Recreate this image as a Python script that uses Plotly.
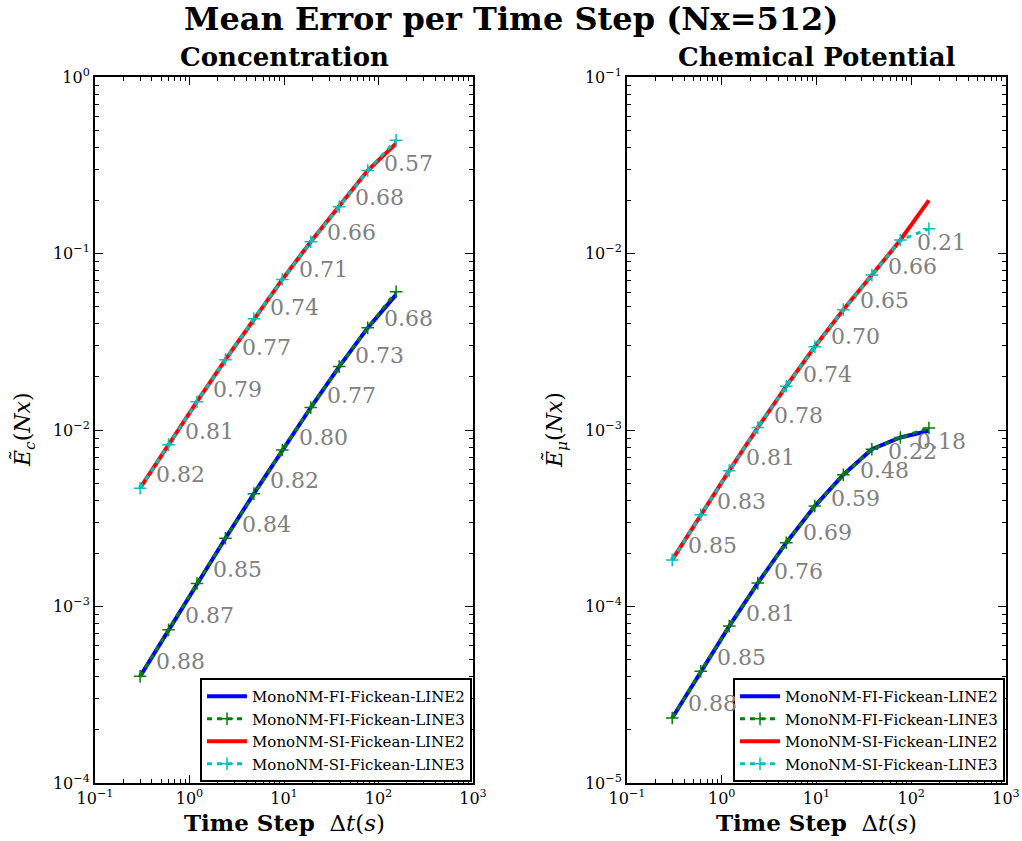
import math
import plotly.graph_objects as go

# ---------------- data ----------------
dt = [0.3, 0.6, 1.2, 2.4, 4.8, 9.6, 19.2, 38.4, 76.8, 153.6]

conc_fi_line2 = [4.02e-4, 7.39e-4, 1.351e-3, 2.436e-3, 4.36e-3, 7.70e-3, 1.341e-2, 2.286e-2, 3.79e-2, 5.85e-2]
conc_fi_line3 = [4.02e-4, 7.39e-4, 1.351e-3, 2.436e-3, 4.36e-3, 7.70e-3, 1.341e-2, 2.286e-2, 3.792e-2, 6.075e-2]
conc_si_line2 = [4.68e-3, 8.26e-3, 1.447e-2, 2.503e-2, 4.268e-2, 7.13e-2, 0.1166, 0.1842, 0.2952, 0.420]
conc_si_line3 = [4.68e-3, 8.26e-3, 1.447e-2, 2.503e-2, 4.268e-2, 7.13e-2, 0.1166, 0.1842, 0.2952, 0.4383]

chem_fi_line2 = [2.333e-5, 4.294e-5, 7.742e-5, 1.357e-4, 2.298e-4, 3.708e-4, 5.58e-4, 7.785e-4, 9.066e-4, 9.90e-4]
chem_fi_line3 = [2.333e-5, 4.294e-5, 7.742e-5, 1.357e-4, 2.298e-4, 3.708e-4, 5.58e-4, 7.785e-4, 9.066e-4, 1.027e-3]
chem_si_line2 = [1.837e-4, 3.311e-4, 5.886e-4, 1.0318e-3, 1.772e-3, 2.96e-3, 4.806e-3, 7.545e-3, 1.192e-2, 2.00e-2]
chem_si_line3 = [1.837e-4, 3.311e-4, 5.886e-4, 1.0318e-3, 1.772e-3, 2.96e-3, 4.806e-3, 7.545e-3, 1.192e-2, 1.379e-2]

# slope labels (convergence orders) between successive points
conc_si_slopes = ["0.82", "0.81", "0.79", "0.77", "0.74", "0.71", "0.66", "0.68", "0.57"]
conc_fi_slopes = ["0.88", "0.87", "0.85", "0.84", "0.82", "0.80", "0.77", "0.73", "0.68"]
chem_si_slopes = ["0.85", "0.83", "0.81", "0.78", "0.74", "0.70", "0.65", "0.66", "0.21"]
chem_fi_slopes = ["0.88", "0.85", "0.81", "0.76", "0.69", "0.59", "0.48", "0.22", "0.18"]

names = ["MonoNM-FI-Fickean-LINE2", "MonoNM-FI-Fickean-LINE3",
         "MonoNM-SI-Fickean-LINE2", "MonoNM-SI-Fickean-LINE3"]
colors = ["#0000ff", "#008000", "#ff0000", "#00bfbf"]

xticks = [0.1, 1, 10, 100, 1000]
xticktext = ["10<sup>\u22121</sup>", "10<sup>0</sup>", "10<sup>1</sup>", "10<sup>2</sup>", "10<sup>3</sup>"]
y1ticks = [1e-4, 1e-3, 1e-2, 1e-1, 1]
y1ticktext = ["10<sup>\u22124</sup>", "10<sup>\u22123</sup>", "10<sup>\u22122</sup>", "10<sup>\u22121</sup>", "10<sup>0</sup>"]
y2ticks = [1e-5, 1e-4, 1e-3, 1e-2, 1e-1]
y2ticktext = ["10<sup>\u22125</sup>", "10<sup>\u22124</sup>", "10<sup>\u22123</sup>", "10<sup>\u22122</sup>", "10<sup>\u22121</sup>"]

SERIF = "DejaVu Serif"
W, H = 1022, 841

fig = go.Figure()

def add_panel(series, xa, ya, leg):
    for i, (nm, ys) in enumerate(zip(names, series)):
        if i % 2 == 0:
            fig.add_trace(go.Scatter(x=dt, y=ys, mode="lines", name=nm,
                                     line=dict(color=colors[i], width=4),
                                     xaxis=xa, yaxis=ya, legend=leg))
        else:
            fig.add_trace(go.Scatter(x=dt, y=ys, mode="lines+markers", name=nm,
                                     line=dict(color=colors[i], width=3, dash="5px,5px"),
                                     marker=dict(symbol="cross-thin", size=9,
                                                 line=dict(color=colors[i], width=1.5)),
                                     xaxis=xa, yaxis=ya, legend=leg))

def add_slopes(ys, labels, xref, yref):
    for k, lab in enumerate(labels):
        xm = (math.log10(dt[k]) + math.log10(dt[k + 1])) / 2
        ym = (math.log10(ys[k]) + math.log10(ys[k + 1])) / 2
        fig.add_annotation(x=xm, y=ym, xref=xref, yref=yref, text=lab,
                           showarrow=False, xanchor="left", yanchor="top", yshift=6,
                           font=dict(family=SERIF, size=22, color="#808080"))

add_panel([conc_fi_line2, conc_fi_line3, conc_si_line2, conc_si_line3], "x", "y", "legend")
add_panel([chem_fi_line2, chem_fi_line3, chem_si_line2, chem_si_line3], "x2", "y2", "legend2")
add_slopes(conc_si_line3, conc_si_slopes, "x", "y")
add_slopes(conc_fi_line3, conc_fi_slopes, "x", "y")
add_slopes(chem_si_line3, chem_si_slopes, "x2", "y2")
add_slopes(chem_fi_line3, chem_fi_slopes, "x2", "y2")

def minor_vals(lo, hi):
    return [m * 10.0 ** e for e in range(lo, hi) for m in range(2, 10)]

def axis_common(ticks, text, rng, minors, domain, anchor):
    return dict(type="log", range=rng, domain=domain, anchor=anchor,
                automargin=False,
                tickmode="array", tickvals=ticks, ticktext=text,
                ticks="inside", ticklen=8, tickwidth=1, tickcolor="black",
                mirror="ticks", showline=True, linewidth=2, linecolor="black",
                showgrid=False, zeroline=False,
                tickfont=dict(family=SERIF, size=16, color="black"),
                minor=dict(tickmode="array", tickvals=minors, ticks="inside",
                           ticklen=4, tickwidth=1, tickcolor="black", showgrid=False))

ydom = [1 - 783 / H, 1 - 77 / H]
legend_common = dict(y=1 - 782 / H, xanchor="right", yanchor="bottom",
                     bordercolor="black", borderwidth=2, bgcolor="white",
                     font=dict(family=SERIF, size=15, color="black"), itemwidth=40,
                     tracegroupgap=0)
fig.update_layout(
    template="none",
    width=W, height=H,
    margin=dict(l=0, r=0, t=0, b=0, autoexpand=False),
    paper_bgcolor="white", plot_bgcolor="white",
    font=dict(family=SERIF, color="black"),
    xaxis=axis_common(xticks, xticktext, [-1, 3], minor_vals(-1, 3), [95 / W, 473 / W], "y"),
    yaxis=axis_common(y1ticks, y1ticktext, [-4, 0], minor_vals(-4, 0), ydom, "x"),
    xaxis2=axis_common(xticks, xticktext, [-1, 3], minor_vals(-1, 3), [627 / W, 1006 / W], "y2"),
    yaxis2=axis_common(y2ticks, y2ticktext, [-5, -1], minor_vals(-5, -1), ydom, "x2"),
    legend=dict(x=472 / W, **legend_common),
    legend2=dict(x=1005 / W, **legend_common),
)

# titles
fig.add_annotation(x=0.5, y=1 - 19 / H, xref="paper", yref="paper",
                   text="<b>Mean Error per Time Step (Nx=512)</b>", showarrow=False,
                   xanchor="center", yanchor="middle",
                   font=dict(family=SERIF, size=32, color="black"))
fig.add_annotation(x=(95 + 473) / 2 / W, y=1 - 57 / H, xref="paper", yref="paper",
                   text="<b>Concentration</b>", showarrow=False,
                   xanchor="center", yanchor="middle",
                   font=dict(family=SERIF, size=26, color="black"))
fig.add_annotation(x=(627 + 1006) / 2 / W, y=1 - 57 / H, xref="paper", yref="paper",
                   text="<b>Chemical Potential</b>", showarrow=False,
                   xanchor="center", yanchor="middle",
                   font=dict(family=SERIF, size=26, color="black"))
# axis titles
for cx in [(95 + 473) / 2, (627 + 1006) / 2]:
    fig.add_annotation(x=cx / W, y=1 - 822 / H, xref="paper", yref="paper",
                       text="<b>Time Step</b>  \u0394<i>t</i>(<i>s</i>)", showarrow=False,
                       xanchor="center", yanchor="middle",
                       font=dict(family=SERIF, size=23, color="black"))
fig.add_annotation(x=24 / W, y=0.5 * (ydom[0] + ydom[1]), xref="paper", yref="paper",
                   text="<i>E\u0303</i><sub><i>c</i></sub>(<i>Nx</i>)", showarrow=False,
                   textangle=-90, xanchor="center", yanchor="middle",
                   font=dict(family=SERIF, size=22, color="black"))
fig.add_annotation(x=556 / W, y=0.5 * (ydom[0] + ydom[1]), xref="paper", yref="paper",
                   text="<i>E\u0303</i><sub><i>\u03bc</i></sub>(<i>Nx</i>)", showarrow=False,
                   textangle=-90, xanchor="center", yanchor="middle",
                   font=dict(family=SERIF, size=22, color="black"))

fig.write_html("out.html", config={"displayModeBar": False},
               post_script="document.body.style.margin='0';document.body.style.overflow='hidden';")
